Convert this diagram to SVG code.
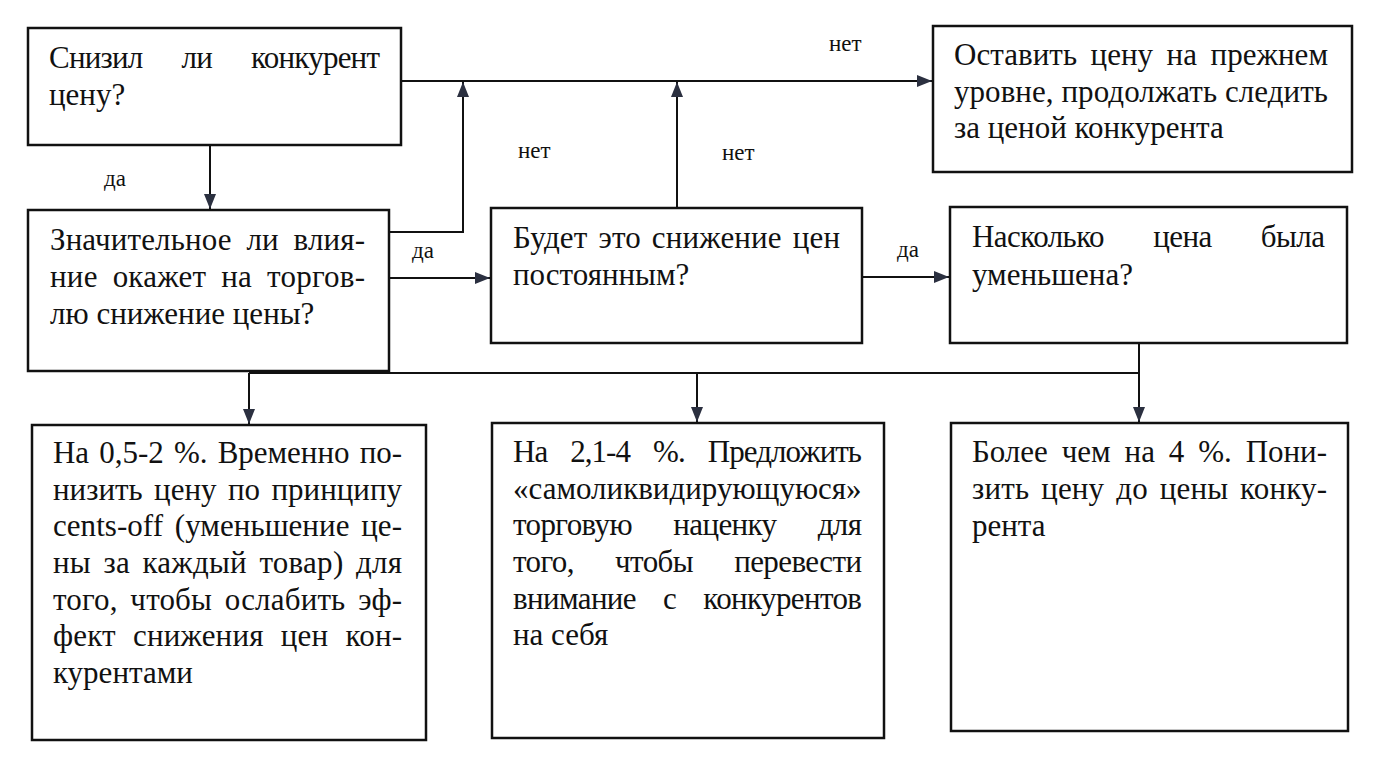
<svg xmlns="http://www.w3.org/2000/svg" width="1376" height="768" viewBox="0 0 1376 768">
<defs>
<marker id="ah" markerUnits="userSpaceOnUse" markerWidth="16" markerHeight="12" refX="15" refY="6" orient="auto">
<path d="M0,0 L15,6 L0,12 Z" fill="#2b3040"/>
</marker>
<style>
.box{fill:#fff;stroke:#111;stroke-width:2.5}
.t{font-family:'Liberation Serif','DejaVu Serif',serif;font-size:31px;fill:#111}
.lbl{font-family:'Liberation Serif','DejaVu Serif',serif;font-size:23px;fill:#111}
.c{fill:none;stroke:#111;stroke-width:2}
</style>
</defs>
<rect width="1376" height="768" fill="#fff"/>

<g id="connectors">
<line class="c" x1="210" y1="145" x2="210" y2="209" marker-end="url(#ah)"/>
<line class="c" x1="401" y1="81" x2="932" y2="81" marker-end="url(#ah)"/>
<polyline class="c" points="389,232 463,232 463,82" marker-end="url(#ah)"/>
<line class="c" x1="389" y1="278" x2="490" y2="278" marker-end="url(#ah)"/>
<line class="c" x1="677" y1="208" x2="677" y2="82" marker-end="url(#ah)"/>
<line class="c" x1="862" y1="277" x2="949" y2="277" marker-end="url(#ah)"/>
<line class="c" x1="1139" y1="343" x2="1139" y2="373"/>
<line class="c" x1="249" y1="373" x2="1139" y2="373"/>
<line class="c" x1="249" y1="373" x2="249" y2="424" marker-end="url(#ah)"/>
<line class="c" x1="697" y1="373" x2="697" y2="422" marker-end="url(#ah)"/>
<line class="c" x1="1139" y1="373" x2="1139" y2="422" marker-end="url(#ah)"/>
<text class="lbl" x="104" y="186" font-family="Liberation Serif, serif">да</text>
<text class="lbl" x="412" y="258" font-family="Liberation Serif, serif">да</text>
<text class="lbl" x="829" y="51" font-family="Liberation Serif, serif">нет</text>
<text class="lbl" x="518" y="158" font-family="Liberation Serif, serif">нет</text>
<text class="lbl" x="722" y="160" font-family="Liberation Serif, serif">нет</text>
<text class="lbl" x="897" y="257" font-family="Liberation Serif, serif">да</text>
</g>

<g id="n1">
<rect class="box" x="28" y="28" width="373" height="117"/>
<text class="t" x="49" y="68" word-spacing="32" textLength="331" lengthAdjust="spacing">Снизил ли конкурент</text>
<text class="t" x="49" y="105">цену?</text>
</g>

<g id="n2">
<rect class="box" x="28" y="210" width="361" height="161"/>
<text class="t" x="50" y="250" word-spacing="7" textLength="315" lengthAdjust="spacing">Значительное ли влия-</text>
<text class="t" x="50" y="287" word-spacing="7" textLength="315" lengthAdjust="spacing">ние окажет на торгов-</text>
<text class="t" x="50" y="324">лю снижение цены?</text>
</g>

<g id="n3">
<rect class="box" x="491" y="208" width="371" height="135"/>
<text class="t" x="513" y="248" word-spacing="3" textLength="327" lengthAdjust="spacing">Будет это снижение цен</text>
<text class="t" x="513" y="285">постоянным?</text>
</g>

<g id="n4">
<rect class="box" x="933" y="26" width="419" height="146"/>
<text class="t" x="954" y="65" word-spacing="5.7" textLength="374" lengthAdjust="spacing">Оставить цену на прежнем</text>
<text class="t" x="954" y="102" textLength="374" lengthAdjust="spacing">уровне, продолжать следить</text>
<text class="t" x="954" y="138">за ценой конкурента</text>
</g>

<g id="n5">
<rect class="box" x="950" y="207" width="397" height="136"/>
<text class="t" x="972" y="247" word-spacing="42" textLength="353" lengthAdjust="spacing">Насколько цена была</text>
<text class="t" x="972" y="285">уменьшена?</text>
</g>

<g id="n6">
<rect class="box" x="32" y="425" width="394" height="315"/>
<text class="t" x="53" y="463" word-spacing="2.5" textLength="349" lengthAdjust="spacing">На 0,5-2 %. Временно по-</text>
<text class="t" x="53" y="500" word-spacing="3.7" textLength="349" lengthAdjust="spacing">низить цену по принципу</text>
<text class="t" x="53" y="536" word-spacing="4" textLength="349" lengthAdjust="spacing">cents-off (уменьшение це-</text>
<text class="t" x="53" y="573" word-spacing="4.5" textLength="349" lengthAdjust="spacing">ны за каждый товар) для</text>
<text class="t" x="53" y="610" word-spacing="4.8" textLength="349" lengthAdjust="spacing">того, чтобы ослабить эф-</text>
<text class="t" x="53" y="646" word-spacing="9.3" textLength="349" lengthAdjust="spacing">фект снижения цен кон-</text>
<text class="t" x="53" y="683">курентами</text>
</g>

<g id="n7">
<rect class="box" x="492" y="423" width="392" height="315"/>
<text class="t" x="513" y="462" word-spacing="16.3" textLength="349" lengthAdjust="spacing">На 2,1-4 %. Предложить</text>
<text class="t" x="513" y="499">«самоликвидирующуюся»</text>
<text class="t" x="513" y="535" word-spacing="34" textLength="349" lengthAdjust="spacing">торговую наценку для</text>
<text class="t" x="513" y="572" word-spacing="34" textLength="349" lengthAdjust="spacing">того, чтобы перевести</text>
<text class="t" x="513" y="609" word-spacing="20" textLength="349" lengthAdjust="spacing">внимание с конкурентов</text>
<text class="t" x="513" y="645">на себя</text>
</g>

<g id="n8">
<rect class="box" x="951" y="423" width="397" height="308"/>
<text class="t" x="972" y="462" word-spacing="6.2" textLength="355" lengthAdjust="spacing">Более чем на 4 %. Пони-</text>
<text class="t" x="972" y="499" word-spacing="4" textLength="355" lengthAdjust="spacing">зить цену до цены конку-</text>
<text class="t" x="972" y="536">рента</text>
</g>
</svg>
